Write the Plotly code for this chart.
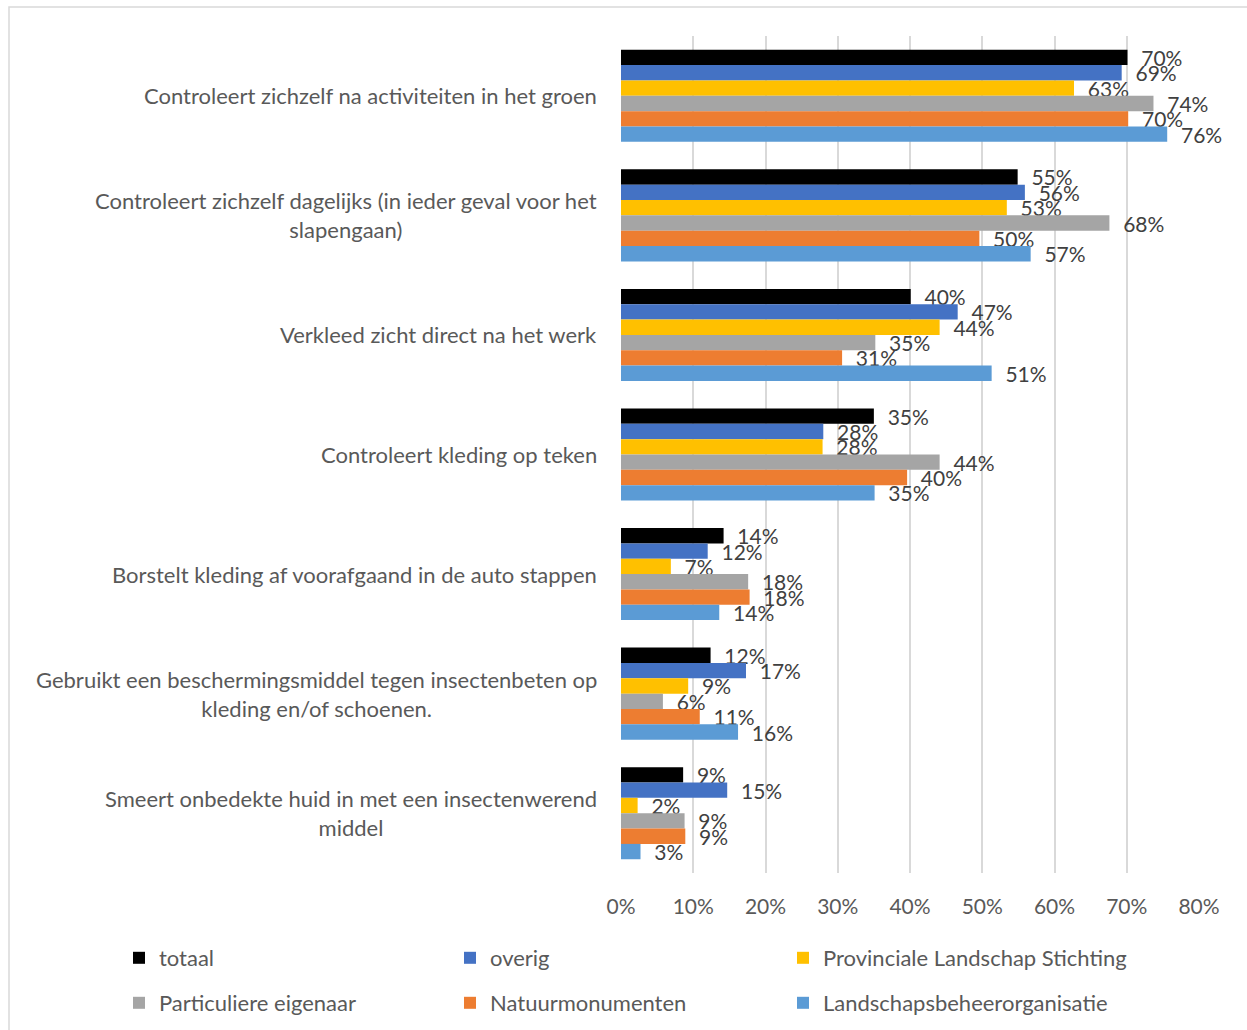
import plotly.graph_objects as go

categories = [
    "Controleert zichzelf na activiteiten in het groen",
    "Controleert zichzelf dagelijks (in ieder geval voor het<br>slapengaan)",
    "Verkleed zicht direct na het werk",
    "Controleert kleding op teken",
    "Borstelt kleding af voorafgaand in de auto stappen",
    "Gebruikt een beschermingsmiddel tegen insectenbeten op<br>kleding en/of schoenen.",
    "Smeert onbedekte huid in met een insectenwerend<br>middel",
]

series_names = [
    "totaal",
    "overig",
    "Provinciale Landschap Stichting",
    "Particuliere eigenaar",
    "Natuurmonumenten",
    "Landschapsbeheerorganisatie",
]

totaal = [0.701, 0.549, 0.401, 0.350, 0.142, 0.124, 0.086]
overig = [0.693, 0.559, 0.466, 0.280, 0.120, 0.173, 0.147]
provinciale = [0.627, 0.534, 0.441, 0.279, 0.069, 0.093, 0.023]
particuliere = [0.737, 0.676, 0.352, 0.441, 0.176, 0.058, 0.088]
natuurmonumenten = [0.702, 0.496, 0.306, 0.396, 0.178, 0.109, 0.089]
landschapsbeheer = [0.756, 0.567, 0.513, 0.351, 0.136, 0.162, 0.027]

series_values = [totaal, overig, provinciale, particuliere, natuurmonumenten, landschapsbeheer]
colors = ["#000000", "#4472C4", "#FFC000", "#A5A5A5", "#ED7D31", "#5B9BD5"]

x_ticks = [0, 0.1, 0.2, 0.3, 0.4, 0.5, 0.6, 0.7, 0.8]

FONT = "Lato"
TXT = "#595959"

W, H = 1247, 1030
L, R, T, B = 621, 48, 36, 157
pw = W - L - R
ph = H - T - B

legend_ids = ["legend", "legend2", "legend3", "legend4", "legend5", "legend6"]
legend_px_x = [119, 450, 783, 119, 450, 783]
legend_px_bottom = [979, 979, 979, 1024, 1024, 1024]

fig = go.Figure()
for name, vals, col, lg in zip(series_names, series_values, colors, legend_ids):
    fig.add_trace(go.Bar(
        y=categories, x=vals, name=name, orientation="h", legend=lg,
        showlegend=True,
        marker=dict(color=col, line=dict(width=0)),
        texttemplate="\u00a0\u00a0%{x:.0%}", textposition="outside",
        constraintext="none", cliponaxis=False,
        textfont=dict(family=FONT, size=21, color="#404040"),
    ))

annotations = []
for c in categories:
    annotations.append(dict(
        x=(599 - L) / pw, xref="paper", y=c, yref="y",
        text=c, showarrow=False, xanchor="right", yanchor="middle",
        align="center", font=dict(family=FONT, size=22, color=TXT),
    ))

legends = {}
for lg, lx, ly in zip(legend_ids, legend_px_x, legend_px_bottom):
    legends[lg] = dict(orientation="h", xanchor="left", yanchor="bottom",
                       x=(lx - L) / pw, y=(873 - ly) / ph,
                       font=dict(family=FONT, size=22, color=TXT),
                       itemwidth=30, bgcolor="rgba(0,0,0,0)")

fig.update_layout(
    width=W, height=H,
    margin=dict(l=L, r=R, t=T, b=B, pad=0, autoexpand=False),
    paper_bgcolor="white", plot_bgcolor="white",
    showlegend=True,
    barmode="group", bargap=0.23, bargroupgap=0,
    font=dict(family=FONT, size=21, color=TXT),
    xaxis=dict(range=[0, 0.8], tickvals=x_ticks, tickformat=".0%",
               showgrid=True, gridcolor="#d9d9d9", gridwidth=1.5,
               zeroline=False, showline=False, ticks="",
               ticklabelstandoff=19,
               tickfont=dict(family=FONT, size=21, color=TXT)),
    yaxis=dict(autorange="reversed", showticklabels=False, showgrid=False,
               zeroline=False, showline=False, ticks=""),
    annotations=annotations,
    shapes=[dict(type="rect", xref="paper", yref="paper",
                 x0=(9 - L) / pw, x1=1.1, y0=(873 - 1045) / ph, y1=(873 - 7) / ph,
                 line=dict(color="#d9d9d9", width=1.5), fillcolor="rgba(0,0,0,0)",
                 layer="below")],
    **legends,
)

fig.write_html("out.html", config={"displayModeBar": False},
               post_script="document.body.style.margin='0px';")
